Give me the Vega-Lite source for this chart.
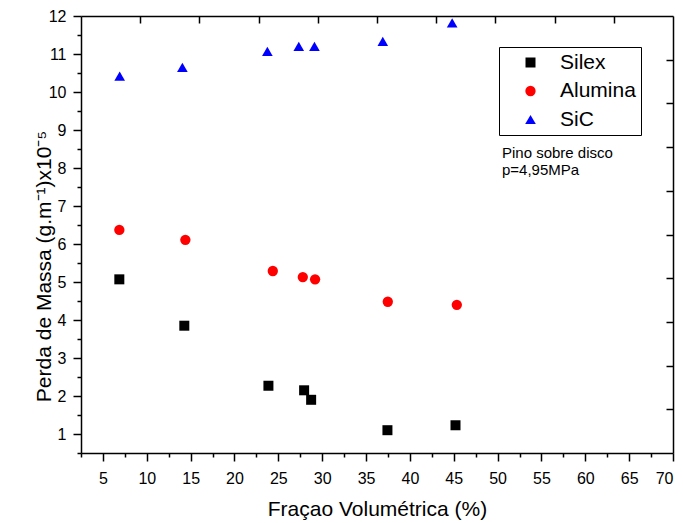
{
  "$schema": "https://vega.github.io/schema/vega-lite/v6.json",
  "width": 592,
  "height": 437,
  "autosize": "none",
  "padding": {"left": 81, "top": 16, "right": 10, "bottom": 70},
  "config": {
    "view": {"stroke": null},
    "axis": {
      "domainColor": "black", "tickColor": "black", "labelColor": "black", "titleColor": "black",
      "labelFont": "Liberation Sans", "titleFont": "Liberation Sans", "grid": false,
      "domainWidth": 1.5, "tickWidth": 1.5, "titleFontWeight": "normal",
      "labelFontSize": 16, "titleFontSize": 21, "labelOverlap": false
    }
  },
  "layer": [
    {
      "data": {"values": [
        {"series": "Silex", "x": 6.87, "y": 5.07},
        {"series": "Silex", "x": 14.28, "y": 3.85},
        {"series": "Silex", "x": 23.87, "y": 2.27},
        {"series": "Silex", "x": 27.94, "y": 2.15},
        {"series": "Silex", "x": 28.74, "y": 1.90},
        {"series": "Silex", "x": 37.44, "y": 1.10},
        {"series": "Silex", "x": 45.2, "y": 1.23},
        {"series": "Alumina", "x": 6.87, "y": 6.37},
        {"series": "Alumina", "x": 14.4, "y": 6.11},
        {"series": "Alumina", "x": 24.37, "y": 5.29},
        {"series": "Alumina", "x": 27.79, "y": 5.13},
        {"series": "Alumina", "x": 29.19, "y": 5.07},
        {"series": "Alumina", "x": 37.48, "y": 4.48},
        {"series": "Alumina", "x": 45.35, "y": 4.40},
        {"series": "SiC", "x": 6.91, "y": 10.42},
        {"series": "SiC", "x": 14.06, "y": 10.65},
        {"series": "SiC", "x": 23.75, "y": 11.07},
        {"series": "SiC", "x": 27.33, "y": 11.20},
        {"series": "SiC", "x": 29.12, "y": 11.20},
        {"series": "SiC", "x": 36.91, "y": 11.33},
        {"series": "SiC", "x": 44.82, "y": 11.82}
      ]},
      "mark": {"type": "point", "filled": true, "opacity": 1},
      "encoding": {
        "x": {"field": "x", "type": "quantitative",
          "scale": {"domain": [2.5, 70], "nice": false, "zero": false},
          "axis": {"orient": "bottom", "values": [5,10,15,20,25,30,35,40,45,50,55,60,65,70], "tickSize": 8, "labelPadding": 9, "labelOverlap": false,
            "title": "Fraçao Volumétrica (%)", "titleY": 62, "titleBaseline": "alphabetic"}},
        "y": {"field": "y", "type": "quantitative",
          "scale": {"domain": [0.5, 12], "nice": false, "zero": false},
          "axis": {"orient": "left", "values": [1,2,3,4,5,6,7,8,9,10,11,12], "tickSize": 8, "labelPadding": 7, "labelOverlap": false, "labelBound": false, "labelFlush": false,
            "title": "Perda de Massa (g.m⁻¹)x10⁻⁵", "titleX": -31, "titleY": 250, "titleAlign": "center", "titleBaseline": "alphabetic", "titleAngle": -90}},
        "color": {"field": "series", "type": "nominal",
          "scale": {"domain": ["Silex", "Alumina", "SiC"], "range": ["#000000", "#ff0000", "#0000ff"]},
          "legend": {"orient": "none", "legendX": 418, "legendY": 31, "title": null,
            "strokeColor": "black", "padding": 5, "labelFontSize": 21,
            "labelFont": "Liberation Sans", "labelColor": "black", "symbolSize": 110,
            "symbolOffset": 16, "labelOffset": 19, "rowPadding": 6.5}},
        "shape": {"field": "series", "type": "nominal",
          "scale": {"domain": ["Silex", "Alumina", "SiC"], "range": ["square", "circle", "triangle-up"]}},
        "size": {"field": "series", "type": "nominal",
          "scale": {"domain": ["Silex", "Alumina", "SiC"], "range": [100, 113, 169]}, "legend": null}
      }
    },
    {
      "data": {"values": [
        {"ax": 50.5, "ay": 8.40, "label": "Pino sobre disco"},
        {"ax": 50.5, "ay": 7.94, "label": "p=4,95MPa"}
      ]},
      "mark": {"type": "text", "align": "left", "baseline": "middle", "fontSize": 15, "font": "Liberation Sans", "color": "black"},
      "encoding": {
        "x": {"field": "ax", "type": "quantitative", "scale": {"domain": [2.5, 70], "nice": false, "zero": false}, "axis": null},
        "y": {"field": "ay", "type": "quantitative", "scale": {"domain": [0.5, 12], "nice": false, "zero": false}, "axis": null},
        "text": {"field": "label", "type": "nominal"}
      }
    },
    {
      "data": {"values": [{"mx": 10, "my": 5}]},
      "mark": {"type": "point", "opacity": 0},
      "encoding": {
        "x": {"field": "mx", "type": "quantitative",
          "scale": {"domain": [2.5, 70], "nice": false, "zero": false},
          "axis": {"orient": "bottom", "values": [2.5,7.5,12.5,17.5,22.5,27.5,32.5,37.5,42.5,47.5,52.5,57.5,62.5,67.5], "tickSize": 4, "labels": false, "domain": false, "title": null}},
        "y": {"field": "my", "type": "quantitative",
          "scale": {"domain": [0.5, 12], "nice": false, "zero": false},
          "axis": {"orient": "left", "values": [0.5,1.5,2.5,3.5,4.5,5.5,6.5,7.5,8.5,9.5,10.5,11.5], "tickSize": 4, "labels": false, "domain": false, "title": null}}
      }
    },
    {
      "data": {"values": [{"tx": 5, "ty": 5}]},
      "mark": {"type": "point", "opacity": 0},
      "encoding": {
        "x": {"field": "tx", "type": "quantitative",
          "scale": {"domain": [0, 10], "nice": false, "zero": false},
          "axis": {"orient": "top", "values": [1,2,3,4,5,6,7,8,9], "tickSize": -7, "labels": false, "title": null}},
        "y": {"field": "ty", "type": "quantitative",
          "scale": {"domain": [0, 10], "nice": false, "zero": false},
          "axis": {"orient": "right", "values": [1,2,3,4,5,6,7,8,9], "tickSize": -7, "labels": false, "title": null}}
      }
    }
  ],
  "resolve": {"scale": {"x": "independent", "y": "independent"}, "axis": {"x": "independent", "y": "independent"}}
}
